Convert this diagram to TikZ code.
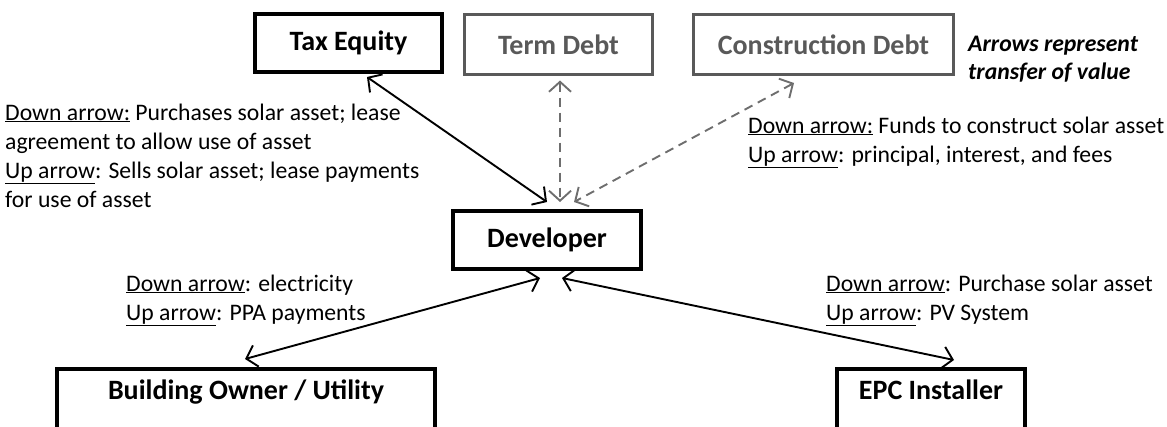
\documentclass[tikz,border=0pt]{standalone}
\usepackage{fontspec}
\setmainfont{Carlito}
\usetikzlibrary{arrows.meta,calc}
\definecolor{dgray}{RGB}{89,89,89}
\definecolor{agray}{RGB}{110,110,110}
\tikzset{
  box/.style={draw, line width=4pt, outer sep=0pt, inner sep=0pt, font=\fontsize{28}{32}\selectfont\bfseries, text=black},
  gbox/.style={box, draw=dgray, line width=3.5pt, text=dgray},
  link/.style={line width=1.9pt, {Straight Barb[length=10pt,width=22pt]}-{Straight Barb[length=10pt,width=22pt]}},
  dlink/.style={link, draw=agray, dash pattern=on 9pt off 6pt},
  lbl/.style={anchor=base west, inner sep=0pt, align=left, font=\fontsize{23.7}{29}\selectfont},
}
\begin{document}
\begin{tikzpicture}[x=1pt,y=-1pt]
\useasboundingbox (0,0) rectangle (1167,426);
\clip (0,0) rectangle (1167,426);
\node[box, minimum width=187pt, minimum height=58pt] (tax) at (348.5,43) {Tax Equity};
\node[gbox, minimum width=188pt, minimum height=60pt] (term) at (558.5,44.5) {Term Debt};
\node[gbox, minimum width=260pt, minimum height=60pt] (constr) at (823.5,44.5) {Construction Debt};
\node[box, minimum width=188pt, minimum height=58pt] (dev) at (547,240) {Developer};
\node[box, minimum width=378pt, anchor=north, text height=30pt, text depth=40pt] (bld) at (246,369) {Building Owner / Utility};
\node[box, minimum width=188pt, anchor=north, text height=30pt, text depth=40pt] (epc) at (931,369) {EPC Installer};
\node[lbl, font=\fontsize{23.7}{28}\selectfont\bfseries\itshape] (note) at (968,79) {Arrows represent\\transfer of value};
\node[lbl] (ltax) at (5,207) {\underline{Down arrow:} Purchases solar asset; lease\\agreement to allow use of asset\\\underline{Up arrow}: Sells solar asset; lease payments\\for use of asset};
\node[lbl] (lcon) at (748,162) {\underline{Down arrow:} Funds to construct solar asset\\\underline{Up arrow}: principal, interest, and fees};
\node[lbl] (lbldg) at (126,320) {\underline{Down arrow}: electricity\\\underline{Up arrow}: PPA payments};
\node[lbl] (lepc) at (826,320) {\underline{Down arrow}: Purchase solar asset\\\underline{Up arrow}: PV System};
\draw[link] ($(tax.south)+(18.5,5)$) -- ($(dev.north)+(0,-9)$);
\draw[dlink] ($(term.south)+(1.5,6)$) -- ($(dev.north)+(13,-9)$);
\draw[dlink] ($(constr.south)+(-29.5,8.5)$) -- ($(dev.north)+(27,-9)$);
\draw[link] ($(bld.north)+(-1,-10)$) -- ($(dev.south)+(-7,9)$);
\draw[link] ($(dev.south)+(15,9)$) -- ($(epc.north)+(23,-9)$);
\end{tikzpicture}
\end{document}
